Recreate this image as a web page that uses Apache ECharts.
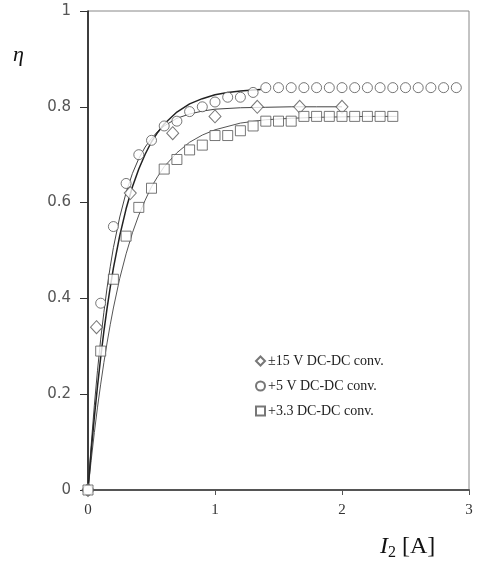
<!DOCTYPE html>
<html>
<head>
<meta charset="utf-8">
<script src="https://cdn.jsdelivr.net/npm/echarts@6/dist/echarts.min.js"></script>
<style>html,body{margin:0;padding:0;background:#fff;}#c{width:478px;height:566px;}</style>
</head>
<body>
<div id="c"></div>
<script>
// ---- data ----
const seriesNames = ['±15 V DC-DC conv.', '+5 V DC-DC conv.', '+3.3 DC-DC conv.'];
const xTicks = [0, 1, 2, 3];
const yTicks = [0, 0.2, 0.4, 0.6, 0.8, 1];

const diamondX = [0, 0.067, 0.333, 0.667, 1.0, 1.333, 1.667, 2.0];
const diamondY = [0, 0.34, 0.62, 0.745, 0.78, 0.80, 0.80, 0.80];

const circleX = [0, 0.1, 0.2, 0.3, 0.4, 0.5, 0.6, 0.7, 0.8, 0.9, 1.0, 1.1, 1.2, 1.3, 1.4,
                 1.5, 1.6, 1.7, 1.8, 1.9, 2.0, 2.1, 2.2, 2.3, 2.4, 2.5, 2.6, 2.7, 2.8, 2.9];
const circleY = [0, 0.39, 0.55, 0.64, 0.70, 0.73, 0.76, 0.77, 0.79, 0.80, 0.81, 0.82, 0.82, 0.83, 0.84,
                 0.84, 0.84, 0.84, 0.84, 0.84, 0.84, 0.84, 0.84, 0.84, 0.84, 0.84, 0.84, 0.84, 0.84, 0.84];

const squareX = [0, 0.1, 0.2, 0.3, 0.4, 0.5, 0.6, 0.7, 0.8, 0.9, 1.0, 1.1, 1.2, 1.3, 1.4, 1.5, 1.6,
                 1.7, 1.8, 1.9, 2.0, 2.1, 2.2, 2.3, 2.4];
const squareY = [0, 0.29, 0.44, 0.53, 0.59, 0.63, 0.67, 0.69, 0.71, 0.72, 0.74, 0.74, 0.75, 0.76, 0.77, 0.77, 0.77,
                 0.78, 0.78, 0.78, 0.78, 0.78, 0.78, 0.78, 0.78];

// fitted curves
const fitCircleX = [0, 0.025, 0.05, 0.075, 0.1, 0.125, 0.15, 0.175, 0.2, 0.25, 0.3, 0.35, 0.4, 0.45, 0.5, 0.55, 0.6, 0.7, 0.8, 0.9, 1.0, 1.1, 1.2, 1.3, 1.36];
const fitCircleY = [0, 0.080, 0.152, 0.217, 0.277, 0.331, 0.379, 0.423, 0.463, 0.531, 0.587, 0.633, 0.670, 0.701, 0.727, 0.747, 0.764, 0.789, 0.806, 0.817, 0.825, 0.830, 0.833, 0.835, 0.836];

const fitDiamondX = [0, 0.025, 0.05, 0.075, 0.1, 0.125, 0.15, 0.175, 0.2, 0.25, 0.3, 0.35, 0.4, 0.45, 0.5, 0.55, 0.6, 0.7, 0.8, 0.9, 1.0, 1.2, 1.4, 1.6, 1.8, 2.0];
const fitDiamondY = [0, 0.094, 0.177, 0.250, 0.315, 0.371, 0.422, 0.466, 0.506, 0.570, 0.621, 0.661, 0.692, 0.716, 0.734, 0.749, 0.760, 0.776, 0.785, 0.791, 0.795, 0.798, 0.799, 0.80, 0.80, 0.80];

const fitSquareX = [0, 0.025, 0.05, 0.075, 0.1, 0.125, 0.15, 0.175, 0.2, 0.25, 0.3, 0.35, 0.4, 0.45, 0.5, 0.55, 0.6, 0.7, 0.8, 0.9, 1.0, 1.2, 1.4, 1.6, 1.8, 2.0, 2.2, 2.43];
const fitSquareY = [0, 0.062, 0.120, 0.173, 0.221, 0.266, 0.307, 0.345, 0.380, 0.442, 0.493, 0.537, 0.574, 0.605, 0.633, 0.655, 0.675, 0.704, 0.726, 0.741, 0.752, 0.766, 0.773, 0.776, 0.778, 0.779, 0.780, 0.780];

// ---- build ----
const zip = (xs, ys) => xs.map((x, i) => [x, ys[i]]);
const markerStyle = { color: '#ffffff', borderColor: '#555', borderWidth: 1 };
const serif = '"Liberation Serif", "DejaVu Serif", serif';

const chart = echarts.init(document.getElementById('c'), null, { renderer: 'canvas' });
chart.setOption({
  backgroundColor: '#ffffff',
  animation: false,
  grid: { left: 88, right: 9, top: 11, bottom: 76, show: true, borderColor: '#888', borderWidth: 1, backgroundColor: 'transparent' },
  xAxis: {
    type: 'value', min: xTicks[0], max: xTicks[xTicks.length - 1], interval: 1,
    axisLine: { lineStyle: { color: '#555', width: 2 } },
    axisTick: { show: true, length: 5, inside: false, lineStyle: { color: '#555' } },
    splitLine: { show: false },
    axisLabel: { color: '#333', fontFamily: serif, fontSize: 15, margin: 13 }
  },
  yAxis: {
    type: 'value', min: yTicks[0], max: yTicks[yTicks.length - 1], interval: 0.2,
    axisLine: { show: true, lineStyle: { color: '#111', width: 1.5 } },
    axisTick: { show: true, length: 8, lineStyle: { color: '#333' } },
    splitLine: { show: false },
    axisLabel: { color: '#555', fontFamily: '"DejaVu Sans", sans-serif', fontSize: 15, margin: 17 }
  },
  legend: {
    orient: 'vertical', left: 250, top: 349, itemWidth: 9, itemHeight: 9, itemGap: 11,
    data: seriesNames,
    textStyle: { fontFamily: serif, fontSize: 14, color: '#222', padding: [0, 0, 0, -2] }
  },
  graphic: [
    { type: 'text', left: 13, top: 44, style: { text: 'η', font: 'italic 22px "Liberation Serif", serif', fill: '#111' } },
    { type: 'text', left: 380, top: 535, style: {
        text: '{i|I}{s|2}{n| [A]}',
        rich: {
          i: { font: 'italic 24px "Liberation Serif", serif', fill: '#111' },
          s: { font: '16px "Liberation Serif", serif', fill: '#111', verticalAlign: 'bottom', padding: [12, 0, 0, 0] },
          n: { font: '24px "Liberation Serif", serif', fill: '#111' }
        } } }
  ],
  series: [
    { type: 'line', data: zip(fitDiamondX, fitDiamondY), showSymbol: false, smooth: false,
      lineStyle: { color: '#444', width: 1 }, z: 2, silent: true },
    { type: 'line', data: zip(fitSquareX, fitSquareY), showSymbol: false, smooth: false,
      lineStyle: { color: '#555', width: 1 }, z: 2, silent: true },
    { type: 'line', data: zip(fitCircleX, fitCircleY), showSymbol: false, smooth: false,
      lineStyle: { color: '#222', width: 1.5 }, z: 2, silent: true },
    { name: seriesNames[0], type: 'scatter', data: zip(diamondX, diamondY), symbol: 'diamond', symbolSize: [12, 13],
      itemStyle: markerStyle, z: 3 },
    { name: seriesNames[1], type: 'scatter', data: zip(circleX, circleY), symbol: 'circle', symbolSize: 10,
      itemStyle: markerStyle, z: 3 },
    { name: seriesNames[2], type: 'scatter', data: zip(squareX, squareY), symbol: 'rect', symbolSize: 10,
      itemStyle: markerStyle, z: 3 }
  ]
});
</script>
</body>
</html>
